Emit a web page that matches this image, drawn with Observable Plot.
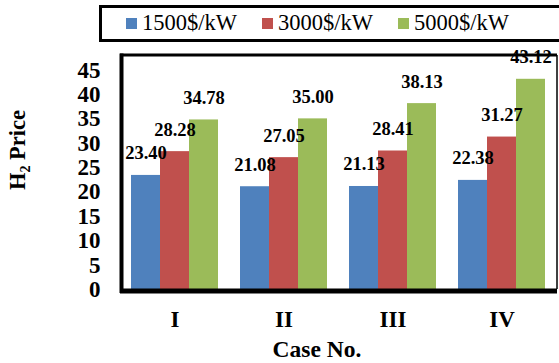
<!DOCTYPE html>
<html><head><meta charset="utf-8">
<script src="https://cdn.jsdelivr.net/npm/d3@7"></script>
<script src="https://cdn.jsdelivr.net/npm/@observablehq/plot@0.6"></script>
<style>
body{margin:0;width:559px;height:363px;overflow:hidden;background:#fff;font-family:'Liberation Serif',serif;}
#legend{position:relative;height:47px;}
#lbox{position:absolute;left:99px;top:5px;width:490px;height:37px;box-sizing:border-box;border:3.5px solid #000;display:flex;align-items:center;padding-left:24px;}
.item{display:flex;align-items:center;margin-right:25px;font-size:22.5px;white-space:nowrap;line-height:1;font-family:'Liberation Serif',serif;}
.sw{width:11px;height:11px;margin-right:5px;flex:none;}
#chart{height:316px;}
svg text{font-family:'Liberation Serif',serif;}
</style></head><body>
<div id="legend"><div id="lbox"></div></div>
<div id="chart"></div>
<script>
const cases = ["I", "II", "III", "IV"];
const series = ["1500$/kW", "3000$/kW", "5000$/kW"];
const colors = ["#4F81BD", "#C0504D", "#9BBB59"];
const v1500 = [23.40, 21.08, 21.13, 22.38];
const v3000 = [28.28, 27.05, 28.41, 31.27];
const v5000 = [34.78, 35.00, 38.13, 43.12];
const yTicks = [0, 5, 10, 15, 20, 25, 30, 35, 40, 45];
const xTitle = "Case No.";

const FONT = "Liberation Serif";
const valuesBySeries = [v1500, v3000, v5000];
const data = [];
cases.forEach((c, i) => series.forEach((s, j) => data.push({case: c, series: s, value: valuesBySeries[j][i]})));

// legend
const lbox = document.getElementById("lbox");
series.forEach((s, j) => {
  const it = document.createElement("div"); it.className = "item";
  const sw = document.createElement("span"); sw.className = "sw"; sw.style.background = colors[j];
  const tx = document.createElement("span"); tx.textContent = s; tx.style.fontFamily = FONT;
  it.append(sw, tx); lbox.append(it);
});

const W = 559, H = 316, mL = 120, mR = 2, mT = 8, mB = 74;
const chart = Plot.plot({
  width: W, height: H,
  marginLeft: mL, marginRight: mR, marginTop: mT, marginBottom: mB,
  style: {fontFamily: FONT, fontWeight: "bold", fontSize: "23px", background: "transparent", overflow: "visible"},
  fx: {domain: cases, paddingInner: 0.2, paddingOuter: 0.1, axis: "bottom", tickSize: 0, tickPadding: 21, label: null},
  x: {domain: series, padding: 0, axis: null},
  y: {domain: [0, 48], ticks: yTicks, tickSize: 0, tickPadding: 31, label: null, tickFormat: d => d},
  color: {domain: series, range: colors},
  marks: [
    Plot.barY(data, {fx: "case", x: "series", y: "value", fill: "series"}),
    Plot.text(data, {fx: "case", x: "series", y: "value", text: d => d.value.toFixed(2), lineAnchor: "bottom", dy: -16, fontSize: 18.5, fontWeight: "bold", fontFamily: FONT, fill: "#000"})
  ]
});
document.getElementById("chart").append(chart);

const svg = d3.select(chart);
svg.selectAll("text").attr("font-family", FONT);
const fr = svg.append("g").attr("stroke", "#000").attr("fill", "none");
fr.append("line").attr("x1", mL).attr("x2", W - mR).attr("y1", mT).attr("y2", mT).attr("stroke-width", 3);
fr.append("line").attr("x1", W - mR).attr("x2", W - mR).attr("y1", mT).attr("y2", H - mB).attr("stroke-width", 1.5);
fr.append("line").attr("x1", mL + 1.5).attr("x2", mL + 1.5).attr("y1", mT - 1.5).attr("y2", H - mB + 4).attr("stroke-width", 4);
fr.append("line").attr("x1", mL).attr("x2", W - mR).attr("y1", H - mB + 2).attr("y2", H - mB + 2).attr("stroke-width", 5);

const yt = svg.append("text").attr("transform", `translate(25,${103}) rotate(-90)`)
  .attr("text-anchor", "middle").attr("font-size", 22.5).attr("font-weight", "bold").attr("font-family", FONT).attr("fill", "#000");
yt.append("tspan").text("H");
yt.append("tspan").attr("font-size", 14).attr("dy", 5).text("2");
yt.append("tspan").attr("dy", -5).text(" Price");

svg.append("text").attr("x", 317).attr("y", 310).attr("text-anchor", "middle")
  .attr("font-size", 23.5).attr("font-weight", "bold").attr("font-family", FONT).attr("fill", "#000").text(xTitle);
</script>
</body></html>
